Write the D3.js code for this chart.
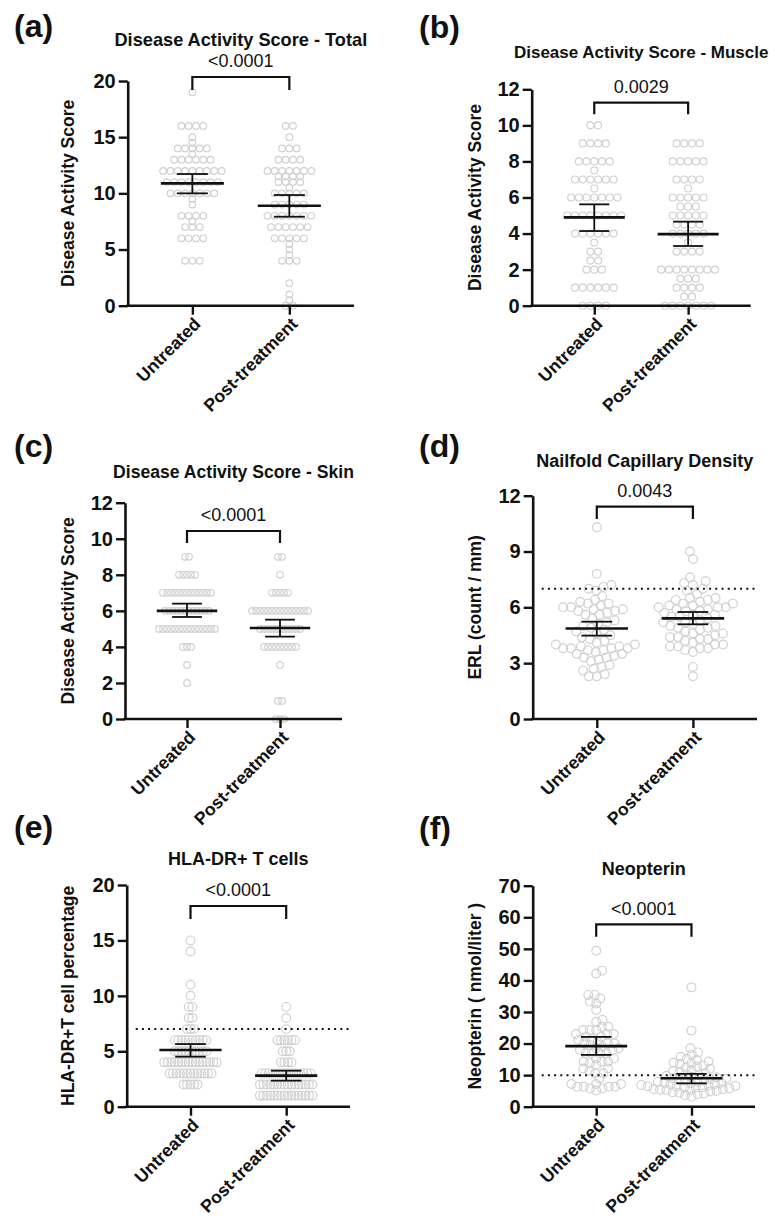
<!DOCTYPE html>
<html><head><meta charset="utf-8">
<script src="https://cdn.jsdelivr.net/npm/d3@7"></script>
<style>
body{margin:0;background:#fff}
svg{display:block}
text{font-family:"Liberation Sans",Arial,Helvetica,sans-serif;fill:#111}
</style>
</head><body>
<svg id="chart" width="775" height="1218"></svg>
<script>
// ---------------- data ----------------
const categories = ["Untreated", "Post-treatment"];
const panelLetters = ["(a)", "(b)", "(c)", "(d)", "(e)", "(f)"];
const titles = ["Disease Activity Score - Total", "Disease Activity Score - Muscle", "Disease Activity Score - Skin",
  "Nailfold Capillary Density", "HLA-DR+ T cells", "Neopterin"];
const yLabels = ["Disease Activity Score", "Disease Activity Score", "Disease Activity Score",
  "ERL (count / mm)", "HLA-DR+T cell percentage", "Neopterin ( nmol/liter )"];
const pValues = ["<0.0001", "0.0029", "<0.0001", "0.0043", "<0.0001", "<0.0001"];
const yMax = [20, 12, 12, 12, 20, 70];
const yTicks = [[0, 5, 10, 15, 20], [0, 2, 4, 6, 8, 10, 12], [0, 2, 4, 6, 8, 10, 12],
  [0, 3, 6, 9, 12], [0, 5, 10, 15, 20], [0, 10, 20, 30, 40, 50, 60, 70]];
const refLines = [null, null, null, 7, 7, 10];
const means = [[10.89, 8.9], [4.9, 3.97], [6.0, 5.05], [4.86, 5.41], [5.11, 2.8], [19.2, 9.0]];
const ciLow = [[10.0, 7.92], [4.14, 3.31], [5.66, 4.57], [4.48, 5.09], [4.51, 2.35], [16.4, 7.4]];
const ciHigh = [[11.72, 9.85], [5.62, 4.66], [6.4, 5.51], [5.23, 5.75], [5.65, 3.25], [22.1, 10.4]];

const aUntreated = [19, 16, 16, 16, 16, 15, 14.5, 14, 14, 14, 14, 14, 13.5, 13, 13, 13, 13, 13, 13,
  12, 12, 12, 12, 12, 12, 12, 12, 12, 11, 11, 11, 11, 11, 11, 11, 11, 10, 10, 10, 10, 10, 10, 10,
  9.5, 9, 8, 8, 8, 8, 7.5, 7, 7, 7, 6, 6, 6, 6, 4, 4, 4];
const aPost = [16, 16, 15, 14, 14, 14, 13, 13, 13, 13, 12, 12, 12, 12, 12, 12, 12, 11.5, 11.5, 11.5, 11.5,
  11, 11, 11, 11, 10.5, 10, 10, 10, 10, 10, 9, 9, 9, 9, 9, 8, 8, 8, 8, 8, 8, 8, 7, 7, 7, 7, 7, 7,
  6, 6, 6, 6, 6, 5.5, 5, 4.5, 4, 4, 4, 2, 1, 0.5, 0, 0];
const bUntreated = [10, 10, 9, 9, 9, 9, 8, 8, 8, 8, 8, 7.5, 7, 7, 7, 7, 7, 7, 6.5, 6, 6, 6, 6, 6, 6, 6,
  5, 5, 5, 5, 5, 5, 5, 5, 4, 4, 4, 4, 4, 4, 3.5, 3, 3, 2.5, 2.5, 2, 2, 2, 1, 1, 1, 1, 1, 1, 0, 0, 0, 0];
const bPost = [9, 9, 9, 9, 8, 8, 8, 8, 8, 7, 7, 7, 7, 6.5, 6, 6, 6, 6, 6, 5.5, 5.5, 5.5, 5, 5, 5, 5, 5,
  4.5, 4.5, 4.5, 4.5, 4, 4, 4, 4, 4, 3.5, 3, 3, 3, 3, 2, 2, 2, 2, 2, 2, 2, 2, 1.5, 1.5, 1.5,
  1, 1, 1, 1, 0.5, 0.5, 0, 0, 0, 0, 0, 0, 0];
const cUntreated = [9, 9, 8, 8, 8, 8, 8, 7, 7, 7, 7, 7, 7, 7, 7, 7, 7, 7, 7, 7, 6, 6, 6, 6, 6, 6, 6, 6, 6, 6, 6, 6,
  5, 5, 5, 5, 5, 5, 5, 5, 5, 5, 5, 5, 5, 5, 5, 4, 4, 4, 3, 2];
const cPost = [9, 9, 8, 7, 7, 7, 7, 7, 6, 6, 6, 6, 6, 6, 6, 6, 6, 6, 6, 6, 6, 6, 6,
  5, 5, 5, 5, 5, 5, 5, 5, 5, 5, 5, 4, 4, 4, 4, 4, 4, 4, 4, 4, 3, 1, 1, 0, 0, 0];
const dUntreated = [10.3, 7.8, 7.2, 7.1, 7.0, 6.9, 6.6, 6.4, 6.3, 6.2, 6.2, 6.1, 6.0, 6.0, 5.9, 5.9, 5.8, 5.8,
  5.7, 5.6, 5.6, 5.4, 5.3, 5.2, 5.1, 5.0, 4.9, 4.8, 4.7, 4.6, 4.5, 4.4, 4.3, 4.2, 4.1, 4.0, 4.0, 3.9, 3.9,
  3.8, 3.8, 3.8, 3.8, 3.7, 3.7, 3.6, 3.5, 3.5, 3.4, 3.3, 3.3, 3.2, 3.1, 2.9, 2.8, 2.7, 2.6, 2.4, 2.3, 2.3];
const dPost = [9.0, 8.6, 7.6, 7.4, 7.3, 7.2, 7.0, 6.9, 6.7, 6.5, 6.5, 6.4, 6.4, 6.3, 6.2, 6.2, 6.1, 6.1, 6.0,
  6.0, 6.0, 5.9, 5.9, 5.8, 5.8, 5.7, 5.6, 5.6, 5.5, 5.5, 5.4, 5.3, 5.2, 5.2, 5.1, 5.0, 5.0, 4.9, 4.9, 4.8,
  4.7, 4.6, 4.6, 4.5, 4.4, 4.4, 4.3, 4.3, 4.2, 4.1, 4.0, 4.0, 3.9, 3.9, 3.8, 3.8, 3.7, 3.6, 2.8, 2.3];
const eUntreated = [15, 14, 11, 10, 9, 9, 8, 8, 7, 7, 7, 6, 6, 6, 6, 6, 6, 6, 6, 6, 6,
  5, 5, 5, 5, 5, 5, 5, 5, 5, 5, 4, 4, 4, 4, 4, 4, 4, 4, 4, 4, 4, 4, 4, 4, 4, 4,
  3, 3, 3, 3, 3, 3, 3, 3, 3, 3, 3, 3, 3, 2, 2, 2, 2, 2];
const ePost = [9, 8, 7, 6, 6, 6, 6, 6, 6, 5, 5, 5, 4, 4, 4, 4,
  3, 3, 3, 3, 3, 3, 3, 3, 3, 3, 3, 3, 3, 3, 3, 2, 2, 2, 2, 2, 2, 2, 2, 2, 2, 2, 2, 2, 2, 2, 2,
  1, 1, 1, 1, 1, 1, 1, 1, 1, 1, 1, 1, 1, 1, 1, 1];
const fUntreated = [49.4, 43.1, 42.2, 35.4, 35.4, 34.3, 33.3, 32.7, 30.6, 27.5, 26.9, 25.3, 25.3, 24.3, 24.3,
  24.3, 23.0, 23.0, 23.0, 22.2, 22.2, 21.5, 21.1, 20.5, 20.1, 20.1, 20.1, 19.5, 19.0, 18.5, 18.5, 18.0,
  17.8, 16.9, 16.9, 16.9, 16.9, 15.3, 15.3, 14.3, 14.3, 14.3, 13.8, 13.2, 12.1, 12.1, 11.5, 10.6, 10.6,
  9.0, 7.2, 7.2, 7.2, 6.3, 6.3, 6.3, 6.3, 5.8, 5.8, 5.1];
const fPost = [37.8, 24.1, 18.5, 17.2, 16.5, 15.8, 15.2, 14.8, 14.3, 13.9, 13.7, 13.5, 13.0, 12.7, 12.4,
  12.0, 11.6, 11.3, 11.0, 10.6, 10.3, 10.0, 9.8, 9.5, 9.3, 9.0, 8.9, 8.8, 8.6, 8.4, 8.2, 8.0, 7.8, 7.6,
  7.5, 7.4, 7.2, 7.0, 6.9, 6.8, 6.6, 6.5, 6.3, 6.2, 6.1, 6.0, 5.8, 5.6, 5.5, 5.4, 5.3, 5.2, 5.0, 4.8,
  4.6, 4.4, 4.2, 4.0, 3.6, 3.2];
const groups = [[aUntreated, aPost], [bUntreated, bPost], [cUntreated, cPost],
  [dUntreated, dPost], [eUntreated, ePost], [fUntreated, fPost]];

// ---------------- layout (positions / styles) ----------------
const layout = [
  {ax: 127.7, xEnd: 354, top: 81, bot: 305.7, lx: 14, ly: 37, titleY: 40, titleSize: 18.2, brTop: 77, brLeg: 13, yLabX: 68, r: 3.3, mode: "rows", gap: 7.3},
  {ax: 531.7, xEnd: 750.7, top: 89.3, bot: 305.7, lx: 419, ly: 38, titleY: 52, titleSize: 17, brTop: 102.7, brLeg: 11.5, yLabX: 475, r: 3.5, mode: "rows", gap: 7.7},
  {ax: 125, xEnd: 342, top: 502.7, bot: 719, lx: 14, ly: 457, titleY: 471.7, titleSize: 17.6, brTop: 531, brLeg: 12, yLabX: 68, r: 3.3, mode: "rows", gap: 4},
  {ax: 532.7, xEnd: 757, top: 495.7, bot: 719, lx: 419, ly: 457, titleY: 461, titleSize: 18, brTop: 506.7, brLeg: 12.3, yLabX: 475, r: 4.4, mode: "swarm", gap: 8},
  {ax: 126.7, xEnd: 350, top: 885, bot: 1106.7, lx: 14, ly: 838, titleY: 859, titleSize: 18, brTop: 906, brLeg: 13, yLabX: 68, r: 4.4, mode: "rows", gap: 3.5},
  {ax: 532.7, xEnd: 755, top: 885.7, bot: 1106.7, lx: 419, ly: 839, titleY: 869, titleSize: 18, brTop: 924.3, brLeg: 12.4, yLabX: 475, r: 4.4, mode: "swarm", gap: 6.5}
];

const svg = d3.select("#chart");
const INK = "#111";
const DOT = "#d0d0d0";

function rowLayout(vals, y, gap) {
  const byVal = d3.group(vals, v => v);
  const out = [];
  for (const [v, arr] of byVal) {
    const k = arr.length;
    arr.forEach((_, i) => out.push({x: (i - (k - 1) / 2) * gap, y: y(v)}));
  }
  return out;
}

function swarmLayout(vals, y, dc) {
  const pts = vals.map(v => ({v, y: y(v)})).sort((a, b) => b.y - a.y);
  const placed = [];
  let flip = 1;
  for (const p of pts) {
    const cands = [0];
    for (const q of placed) {
      const dy = Math.abs(q.y - p.y);
      if (dy < dc) {
        const dx = Math.sqrt(dc * dc - dy * dy);
        cands.push(q.x + dx, q.x - dx);
      }
    }
    const ok = cands.filter(c => placed.every(q => (q.x - c) ** 2 + (q.y - p.y) ** 2 >= dc * dc - 1e-6));
    ok.sort((a, b) => Math.abs(a) - Math.abs(b) || (b - a) * flip);
    p.x = ok[0];
    flip = -flip;
    placed.push(p);
  }
  return placed;
}

layout.forEach((L, i) => {
  const g = svg.append("g");
  const y = d3.scaleLinear().domain([0, yMax[i]]).range([L.bot, L.top]);
  const x = d3.scalePoint().domain(categories).range([L.ax, L.xEnd]).padding(2 / 3);
  const step = x.step();

  // panel letter
  g.append("text").attr("x", L.lx).attr("y", L.ly).attr("font-size", 32).attr("font-weight", "bold").text(panelLetters[i]);
  // title
  const cx = (x(categories[0]) + x(categories[1])) / 2;
  g.append("text").attr("x", cx).attr("y", L.titleY).attr("dy", "0.35em").attr("text-anchor", "middle")
    .attr("font-size", L.titleSize).attr("font-weight", "bold").text(titles[i]);

  // points
  categories.forEach((c, j) => {
    const vals = groups[i][j];
    const pts = L.mode === "rows" ? rowLayout(vals, y, L.gap) : swarmLayout(vals, y, L.gap);
    g.append("g").selectAll("circle").data(pts).join("circle")
      .attr("cx", d => x(c) + d.x).attr("cy", d => d.y).attr("r", L.r)
      .attr("fill", "none").attr("stroke", DOT).attr("stroke-width", 1.15);
  });

  // reference dotted line
  if (refLines[i] != null) {
    g.append("line").attr("x1", L.ax + 9).attr("x2", L.xEnd).attr("y1", y(refLines[i])).attr("y2", y(refLines[i]))
      .attr("stroke", INK).attr("stroke-width", 2).attr("stroke-dasharray", "2,4.2");
  }

  // mean and CI
  categories.forEach((c, j) => {
    const xc = x(c);
    const mh = step * 0.325, wh = step * 0.16;
    g.append("line").attr("x1", xc - mh).attr("x2", xc + mh).attr("y1", y(means[i][j])).attr("y2", y(means[i][j]))
      .attr("stroke", INK).attr("stroke-width", 2.6);
    g.append("line").attr("x1", xc).attr("x2", xc).attr("y1", y(ciLow[i][j])).attr("y2", y(ciHigh[i][j]))
      .attr("stroke", INK).attr("stroke-width", 1.8);
    [ciLow[i][j], ciHigh[i][j]].forEach(v => {
      g.append("line").attr("x1", xc - wh).attr("x2", xc + wh).attr("y1", y(v)).attr("y2", y(v))
        .attr("stroke", INK).attr("stroke-width", 1.8);
    });
  });

  // y axis
  const ya = g.append("g").attr("transform", `translate(${L.ax},0)`)
    .call(d3.axisLeft(y).tickValues(yTicks[i]).tickSize(9).tickPadding(3).tickSizeOuter(0));
  ya.select(".domain").attr("stroke", INK).attr("stroke-width", 2.6);
  ya.selectAll(".tick line").attr("stroke", INK).attr("stroke-width", 2.4);
  ya.selectAll(".tick text").attr("font-size", 20).attr("font-weight", "bold").attr("fill", INK)
    .style("font-family", '"Liberation Sans",Arial,sans-serif');

  // x axis
  const xa = g.append("g").attr("transform", `translate(0,${L.bot})`)
    .call(d3.axisBottom(x).tickSize(9).tickSizeOuter(0).tickFormat(""));
  xa.select(".domain").attr("d", `M${L.ax - 1.3},0H${L.xEnd}`).attr("stroke", INK).attr("stroke-width", 2.6);
  xa.selectAll(".tick line").attr("stroke", INK).attr("stroke-width", 2.4);
  categories.forEach(c => {
    g.append("text").attr("transform", `translate(${x(c) + 5},${L.bot + 15}) rotate(-45)`)
      .attr("text-anchor", "end").attr("dy", "0.35em").attr("font-size", 17.6).attr("font-weight", "bold").text(c);
  });

  // y label
  g.append("text").attr("transform", `translate(${L.yLabX},${(L.top + L.bot) / 2}) rotate(-90)`)
    .attr("text-anchor", "middle").attr("dy", "0.35em").attr("font-size", 17.5).attr("font-weight", "bold").text(yLabels[i]);

  // significance bracket
  const x0 = x(categories[0]), x1 = x(categories[1]);
  g.append("path").attr("d", `M${x0},${L.brTop + L.brLeg}V${L.brTop}H${x1}V${L.brTop + L.brLeg}`)
    .attr("fill", "none").attr("stroke", INK).attr("stroke-width", 2.2);
  g.append("text").attr("x", cx).attr("y", L.brTop - 16).attr("dy", "0.35em").attr("text-anchor", "middle")
    .attr("font-size", 18).text(pValues[i]);
});
</script>
</body></html>
